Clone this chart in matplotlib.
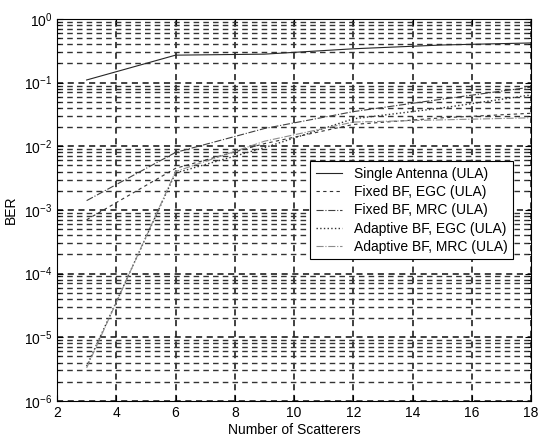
import numpy as np
import matplotlib
matplotlib.use("Agg")
import matplotlib.pyplot as plt
from matplotlib.ticker import FixedLocator, NullFormatter, LogFormatterSciNotation

plt.rcParams['font.family'] = ['Liberation Sans', 'DejaVu Sans']
plt.rcParams['mathtext.fontset'] = 'custom'
plt.rcParams['mathtext.rm'] = 'Liberation Sans'
plt.rcParams['mathtext.it'] = 'Liberation Sans:italic'

# data (BER vs number of scatterers)
scatterers = [3, 6, 9, 12, 15, 18]
ber_single = [0.11, 0.27, 0.28, 0.34, 0.39, 0.42]
ber_fixed_egc = [7e-4, 4.5e-3, 0.011, 0.022, 0.028, 0.033]
ber_fixed_mrc = [1.4e-3, 8e-3, 0.019, 0.035, 0.055, 0.085]
ber_adapt_egc = [3.5e-6, 3.8e-3, 0.0095, 0.027, 0.040, 0.064]
ber_adapt_mrc = [3.3e-6, 4.0e-3, 0.012, 0.024, 0.026, 0.028]

labels = ["Single Antenna (ULA)", "Fixed BF, EGC (ULA)", "Fixed BF, MRC (ULA)",
          "Adaptive BF, EGC (ULA)", "Adaptive BF, MRC (ULA)"]
x_ticks = [2, 4, 6, 8, 10, 12, 14, 16, 18]
y_ticks = [1e-6, 1e-5, 1e-4, 1e-3, 1e-2, 1e-1, 1e0]

fig = plt.figure(figsize=(5.43, 4.41), dpi=100)
ax = fig.add_axes([0.105, 0.091, 0.873, 0.866])

ax.semilogy(scatterers, ber_single, '-', color='0.15', lw=0.8, label=labels[0])
ax.semilogy(scatterers, ber_fixed_egc, '--', color='0.2', lw=0.8, dashes=(3, 3), label=labels[1])
ax.semilogy(scatterers, ber_fixed_mrc, '-.', color='0.25', lw=0.8, label=labels[2])
ax.semilogy(scatterers, ber_adapt_egc, ':', color='0.2', lw=1.0, label=labels[3])
ax.semilogy(scatterers, ber_adapt_mrc, '-.', color='0.55', lw=0.8, label=labels[4])

ax.set_xlim(2, 18)
ax.set_ylim(1e-6, 1)
ax.xaxis.set_major_locator(FixedLocator(x_ticks))
ax.yaxis.set_major_locator(FixedLocator(y_ticks))
ax.yaxis.set_major_formatter(LogFormatterSciNotation())
# minor decades 2..9 inside the visible range only
minor = [m * d for d in y_ticks[:-1] for m in range(2, 10)]
ax.yaxis.set_minor_locator(FixedLocator(minor))
ax.yaxis.set_minor_formatter(NullFormatter())
ax.xaxis.offsetText.set_visible(False)
ax.yaxis.offsetText.set_visible(False)

ax.grid(True, which='major', axis='both', color='0.05', linestyle=(0, (4, 3)), lw=1.1)
ax.grid(True, which='minor', axis='y', color='0.2', linestyle=(0, (4, 3)), lw=1.0)

ax.tick_params(which='both', direction='in', top=True, right=True, labelsize=10)
ax.tick_params(which='major', length=4)
ax.tick_params(which='minor', length=2)
for s in ax.spines.values():
    s.set_linewidth(0.8)

ax.set_xlabel("Number of Scatterers", fontsize=10, labelpad=2)
ax.set_ylabel("BER", fontsize=10)

leg = ax.legend(loc='upper left', bbox_to_anchor=(0.52, 0.645), fontsize=10,
                frameon=True, fancybox=False, edgecolor='black', framealpha=1,
                handlelength=1.9, borderpad=0.4, labelspacing=0.3, handletextpad=0.8)
leg.get_frame().set_linewidth(0.8)

fig.savefig("out.png", dpi=100)
